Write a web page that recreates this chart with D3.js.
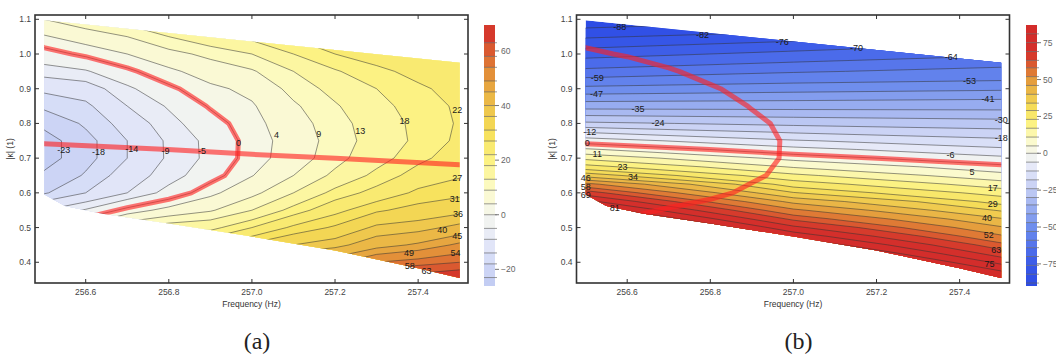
<!DOCTYPE html>
<html>
<head>
<meta charset="utf-8">
<script src="https://cdn.jsdelivr.net/npm/d3@7"></script>
<style>
body{margin:0;background:#fff;}
text{font-family:"Liberation Sans",Arial,sans-serif;}
</style>
</head>
<body>
<script>
//begin data
var freqTicks=[256.6,256.8,257.0,257.2,257.4];
var kappaTicks=[0.4,0.5,0.6,0.7,0.8,0.9,1.0,1.1];

//outline of the scanned region (same for both panels)
var edgeFreq =[256.5,257.5,257.5,257.4,257.2,257.0,256.8,256.64,256.55,256.5];
var edgeKappa=[1.097,0.975,0.355,0.383,0.434,0.474,0.512,0.54,0.562,0.595];

//(a) grid, columns = frequency, rows = |kappa| from top
var freqA=[256.5,256.6,256.7,256.8,256.9,257.0,257.1,257.2,257.3,257.4,257.5];
var kappaA=[1.10,1.05,1.00,0.95,0.90,0.85,0.80,0.75,0.70,0.65,0.60,0.55,0.50,0.45,0.40,0.35];
var valuesA=[
 [9,12,15,19,22,25,28,30,31,31,30],
 [3.5,6.5,9,13,16.5,19.5,22.5,26,28.5,28,28],
 [-2,1,4,7.5,10.2,13,18,22,24,25.5,26.5],
 [-7,-5.5,-1,3,6.3,8.5,13,17.5,21,23.3,25],
 [-13,-11.5,-6,-1,3,5.2,10.5,14.5,18,21.3,23.5],
 [-17,-15,-9,-4.5,0.5,3.5,8.3,12.5,16.5,20,22.7],
 [-21.5,-17.3,-12,-6.5,-2,2.5,7,11.3,15.4,19.2,22.5],
 [-25.5,-19.5,-14,-8.2,-3.7,1.8,6.2,10.8,15,19,23],
 [-25.5,-19.5,-14,-8.3,-3.8,2,6.5,11.5,16,20.8,24.5],
 [-22,-17.5,-11.5,-7,-2,3.8,9,14,19.3,24,26.5],
 [-18.5,-14,-9,-3.3,2.8,7.8,13,19.5,23.7,28,29.8],
 [-9,-4.5,1.5,5.7,8.5,13,19.7,25.5,30.3,32.8,34.4],
 [2,6,13,15.5,16.5,22,28,31.7,37,38.2,41.5],
 [13,17,24,26,26,32,36,38.5,43,45.8,50],
 [24,28,35,37,36,42,46,48,54,56,58],
 [35,39,46,48,46,52,56,58,65,67,69.5]
];
var levelsA=[-23,-18,-14,-9,-5,0,4,9,13,18,22,27,31,36,40,45,49,54,58,63];
var rangeA=[-26.1,69.5];
var barTicksA=[-20,0,20,40,60];
var labelsA=[
 [256.547,0.724,"-23"],[256.631,0.719,"-18"],[256.711,0.726,"-14"],[256.792,0.721,"-9"],[256.88,0.721,"-5"],
 [256.968,0.743,"0"],[257.059,0.767,"4"],[257.161,0.769,"9"],[257.261,0.778,"13"],[257.367,0.807,"18"],
 [257.494,0.839,"22"],[257.494,0.642,"27"],[257.488,0.582,"31"],[257.496,0.539,"36"],[257.458,0.493,"40"],
 [257.494,0.476,"45"],[257.378,0.426,"49"],[257.49,0.426,"54"],[257.38,0.39,"58"],[257.42,0.375,"63"]
];

//(b) grid
var freqB=[256.5,257.0,257.5];
var kappaB=[1.125,1.1,1.075,1.05,1.025,1.0,0.975,0.95,0.925,0.9,0.875,0.85,0.825,0.8,0.775,0.75,
            0.725,0.7,0.675,0.65,0.625,0.6,0.575,0.55,0.525,0.5,0.475,0.45,0.425,0.4,0.375,0.35,0.325];
var valuesB=[
 [-98.3,-94.6,-91],[-93.2,-89.5,-86],[-88,-84.4,-80.7],[-82.8,-79,-74.4],[-77.7,-73.4,-69.1],
 [-72.5,-68.3,-64.9],[-67.3,-63.7,-61],[-62.4,-59.6,-57.2],[-57.7,-54.9,-53.3],[-51.2,-49.5,-48.1],
 [-44.5,-43.3,-42.2],[-37.2,-37.1,-37],[-30.7,-31.8,-32.5],[-22.8,-25.6,-27.6],[-12.4,-18.7,-21.9],
 [-2.8,-11.4,-16.4],[5.75,-3.9,-10.8],[15.4,3.1,-4.6],[25.3,10.4,1.5],[37.3,18.4,6.9],
 [53.8,26.3,13.7],[66,34.4,20.4],[77,44.3,26.9],[87,53.2,33.3],[97,61.7,40.5],
 [107,70.5,46.7],[117,79.2,52.9],[127,87.9,59.6],[137,97,66],[147,106,73.3],
 [157,115,81],[167,124,88.5],[177,133,97]
];
var levelsB=[-88,-82,-76,-70,-64,-59,-53,-47,-41,-35,-30,-24,-18,-12,-6,0,5,11,17,23,29,34,40,46,52,58,63,69,75,81];
var rangeB=[-90,87];
var barTicksB=[-75,-50,-25,0,25,50,75];
var labelsB=[
 [256.582,1.079,"-88"],[256.781,1.055,"-82"],[256.973,1.036,"-76"],[257.152,1.016,"-70"],[257.38,0.99,"-64"],
 [256.528,0.93,"-59"],[257.424,0.922,"-53"],[256.526,0.884,"-47"],[257.468,0.87,"-41"],[256.626,0.841,"-35"],
 [257.5,0.81,"-30"],[256.674,0.80,"-24"],[257.5,0.757,"-18"],[256.51,0.774,"-12"],[257.378,0.709,"-6"],
 [256.504,0.743,"0"],[257.43,0.661,"5"],[256.528,0.711,"11"],[257.48,0.613,"17"],[256.589,0.674,"23"],
 [257.48,0.567,"29"],[256.614,0.646,"34"],[257.466,0.527,"40"],[256.5,0.642,"46"],[257.47,0.478,"52"],
 [256.5,0.618,"58"],[257.488,0.435,"63"],[256.5,0.594,"69"],[257.472,0.394,"75"],[256.57,0.557,"81"]
];

//shared colour function
var colorStops=[-90,-75,-50,-25,-10,0,10,20,30,40,50,58,68,90];
var colorList=["#2c4be5","#3a5ae8","#6f8eed","#c2ccf3","#e4e8f9","#f5f6ee","#fcfbc6","#fcf283",
               "#f6e05a","#edc24a","#e49a3b","#dc6631","#d4302b","#d22a2a"];
//end data

var W=1056,H=358,top0=15,bot0=283;
var svg=d3.select("body").append("svg").attr("width",W).attr("height",H);
var color=d3.scaleLinear().domain(colorStops).range(colorList).clamp(true);

function gridPath(freqs,kappas,x,y){
    var df=freqs[1]-freqs[0],dk=kappas[1]-kappas[0];
    return d3.geoPath(d3.geoTransform({point:function(a,b){
        this.stream.point(x(freqs[0]+(a-0.5)*df),y(kappas[0]+(b-0.5)*dk));
    }}));
}
function contoursOf(values,freqs,kappas,levels){
    return d3.contours().size([freqs.length,kappas.length]).thresholds(levels)(d3.merge(values));
}
function bandColor(levels,range,i){
    var lo=i<0?range[0]:levels[i],
        hi=i+1<levels.length?levels[i+1]:range[1];
    return color((lo+hi)/2);
}

function panel(id,left,cbx,values,freqs,kappas,levels,range,barTicks,labels,tag){
    var x=d3.scaleLinear().domain([256.478,257.52]).range([left,left+433]);
    var y=d3.scaleLinear().domain([0.3403,1.1124]).range([bot0,top0]);
    var g=svg.append("g");
    var edge=d3.line()(edgeFreq.map(function(f,i){return [x(f),y(edgeKappa[i])];}))+"Z";
    svg.append("clipPath").attr("id","clip"+id).append("path").attr("d",edge);
    var plot=g.append("g").attr("clip-path","url(#clip"+id+")");
    var path=gridPath(freqs,kappas,x,y);
    var cs=contoursOf(values,freqs,kappas,levels);

    //filled bands
    plot.append("path").attr("d",edge).attr("fill",bandColor(levels,range,-1));
    plot.selectAll("path.band").data(cs).enter().append("path")
        .attr("class","band")
        .attr("d",path)
        .attr("fill",function(d,i){return bandColor(levels,range,i);});
    //contour lines
    plot.selectAll("path.iso").data(cs).enter().append("path")
        .attr("class","iso")
        .attr("d",path)
        .attr("fill","none")
        .attr("stroke","#333")
        .attr("stroke-opacity",0.75)
        .attr("stroke-width",0.7);

    //zero lines of both fields in red
    var zeroA=contoursOf(valuesA,freqA,kappaA,[0])[0];
    var zeroB=contoursOf(valuesB,freqB,kappaB,[0])[0];
    [[zeroA,gridPath(freqA,kappaA,x,y)],[zeroB,gridPath(freqB,kappaB,x,y)]].forEach(function(z){
        plot.append("path")
            .attr("d",z[1](z[0]))
            .attr("fill","none")
            .attr("stroke","#ff2020")
            .attr("stroke-opacity",0.62)
            .attr("stroke-width",5)
            .attr("stroke-linejoin","round");
    });

    //contour labels
    g.selectAll("text.lab").data(labels).enter().append("text")
        .attr("class","lab")
        .attr("x",function(d){return x(d[0]);})
        .attr("y",function(d){return y(d[1])+3;})
        .attr("text-anchor","middle")
        .style("font-size","9px")
        .style("fill","#1a1a1a")
        .text(function(d){return d[2];});

    //frame
    g.append("rect")
        .attr("x",left).attr("y",top0)
        .attr("width",433).attr("height",bot0-top0)
        .attr("fill","none").attr("stroke","#333").attr("stroke-width",1.6);
    freqTicks.forEach(function(t){
        g.append("line").attr("x1",x(t)).attr("x2",x(t)).attr("y1",bot0).attr("y2",bot0-4).attr("stroke","#333");
        g.append("line").attr("x1",x(t)).attr("x2",x(t)).attr("y1",top0).attr("y2",top0+4).attr("stroke","#333");
        g.append("text").attr("x",x(t)).attr("y",bot0+12).attr("text-anchor","middle")
            .style("font-size","8.5px").style("fill","#444").text(t.toFixed(1));
    });
    kappaTicks.forEach(function(t){
        g.append("line").attr("x1",left).attr("x2",left+4).attr("y1",y(t)).attr("y2",y(t)).attr("stroke","#333");
        g.append("line").attr("x1",left+433).attr("x2",left+429).attr("y1",y(t)).attr("y2",y(t)).attr("stroke","#333");
        g.append("text").attr("x",left-4).attr("y",y(t)+3).attr("text-anchor","end")
            .style("font-size","8.5px").style("fill","#444").text(t.toFixed(1));
    });
    g.append("text").attr("x",left+216.5).attr("y",bot0+24).attr("text-anchor","middle")
        .style("font-size","8.5px").style("fill","#333").text("Frequency (Hz)");
    g.append("text").attr("transform","translate("+(left-22)+","+((top0+bot0)/2)+") rotate(-90)")
        .attr("text-anchor","middle").style("font-size","8.5px").style("fill","#333").text("|κ| (1)");
    g.append("text").attr("x",left+222).attr("y",349).attr("text-anchor","middle")
        .style("font-family","'Liberation Serif',serif").style("font-size","24px").style("fill","#222").text(tag);

    //colour bar
    var cy=d3.scaleLinear().domain(range).range([286,25]);
    var edges=[range[0]].concat(levels).concat([range[1]]);
    for(var i=0;i<edges.length-1;i++){
        g.append("rect").attr("x",cbx).attr("width",11)
            .attr("y",cy(edges[i+1])).attr("height",cy(edges[i])-cy(edges[i+1]))
            .attr("fill",color((edges[i]+edges[i+1])/2));
    }
    levels.forEach(function(l){
        g.append("line").attr("x1",cbx).attr("x2",cbx+13).attr("y1",cy(l)).attr("y2",cy(l))
            .attr("stroke","#555").attr("stroke-width",0.6);
    });
    barTicks.forEach(function(t){
        g.append("line").attr("x1",cbx+11).attr("x2",cbx+15).attr("y1",cy(t)).attr("y2",cy(t)).attr("stroke","#777");
        g.append("text").attr("x",cbx+17).attr("y",cy(t)+3)
            .style("font-size","8.5px").style("fill","#666")
            .text(t<0?"\u2212"+(-t):t);
    });
}

panel("a",35,484,valuesA,freqA,kappaA,levelsA,rangeA,barTicksA,labelsA,"(a)");
panel("b",576.5,1026,valuesB,freqB,kappaB,levelsB,rangeB,barTicksB,labelsB,"(b)");
</script>
</body>
</html>
